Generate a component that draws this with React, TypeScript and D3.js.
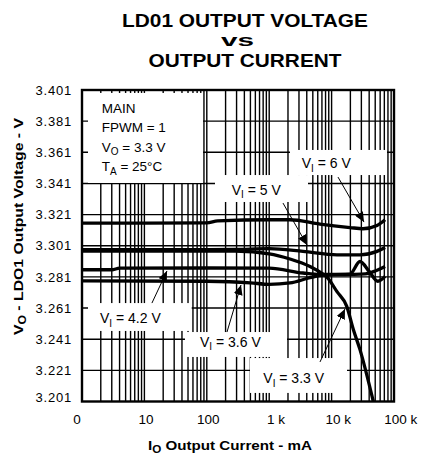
import * as d3 from 'd3';

// output current (mA) / output voltage (V) pairs
const vi6: [number, number][] = [
  [1, 3.3155], [10, 3.3155], [100, 3.3157], [150, 3.317], [1000, 3.3177], [2150, 3.3177],
  [6500, 3.3149], [19700, 3.3127], [31800, 3.3119], [53400, 3.314], [72000, 3.3177],
];
const vi5: [number, number][] = [
  [1, 3.2985], [100, 3.2985], [283, 3.2986], [1000, 3.2991], [3480, 3.2974], [12200, 3.2952],
  [28500, 3.2952], [53400, 3.2974], [72000, 3.2999],
];
const vi42: [number, number][] = [
  [1, 3.2856], [3, 3.2856], [4, 3.2866], [100, 3.2867], [1000, 3.2866], [3480, 3.2835],
  [6500, 3.2826], [19700, 3.2828], [28500, 3.2909], [40000, 3.2845], [55000, 3.2782], [72000, 3.2813],
];
const vi36: [number, number][] = [
  [1, 3.2785], [100, 3.2782], [500, 3.2772], [1000, 3.2762], [2150, 3.2771], [4510, 3.2805],
  [7280, 3.2822], [20000, 3.2826], [35000, 3.283], [50000, 3.2848], [72000, 3.2877],
];
const vi33: [number, number][] = [
  [1, 3.2976], [100, 3.2976], [283, 3.2975], [1000, 3.2958], [2150, 3.2925], [4510, 3.2877],
  [7280, 3.2828], [8440, 3.2808], [12200, 3.2715], [17500, 3.2621], [22300, 3.2472],
  [28500, 3.2343], [46600, 3.201],
];
const series = [vi6, vi5, vi42, vi36, vi33];

const yTickValues = [3.201, 3.221, 3.241, 3.261, 3.281, 3.301, 3.321, 3.341, 3.361, 3.381, 3.401];
const xTickValues = [1, 10, 100, 1000, 10000, 100000];
const xTickLabels = ['0', '10', '100', '1 k', '10 k', '100 k'];

const legendLines = [
  { main: 'MAIN', sub: '', rest: '' },
  { main: 'FPWM = 1', sub: '', rest: '' },
  { main: 'V', sub: 'O', rest: ' = 3.3 V' },
  { main: 'T', sub: 'A', rest: ' = 25°C' },
];

// callouts, placed in data units: text start, box corners, arrow tail and head
const callouts = [
  { label: ' = 6 V', text: [3318, 3.3507], box: [2154, 3.3625, 77230, 3.3464], from: [12660, 3.3451], to: [33050, 3.3162] },
  { label: ' = 5 V', text: [250.6, 3.3339], box: [135.3, 3.3464, 4186, 3.3291], from: [1664, 3.3284], to: [4035, 3.3015] },
  { label: ' = 4.2 V', text: [1.943, 3.2514], box: [1.248, 3.2642, 57.3, 3.2463], from: [13.2, 3.2642], to: [23.0, 3.2848] },
  { label: ' = 3.6 V', text: [77.8, 3.2362], box: [44.7, 3.2456, 1929, 3.2296], from: [210.7, 3.2456], to: [353.3, 3.2758] },
  { label: ' = 3.3 V', text: [804, 3.2127], box: [492.4, 3.2289, 17650, 3.2065], from: [6518, 3.2264], to: [16400, 3.2604] },
];
const legendBox = [1.248, 3.3991, 87, 3.3413];
const legendTextAt = [2.07, 3.3862];
const legendStep = 0.01241;

const W = 421;
const H = 456;
const plot = { left: 82, right: 394, top: 90, bottom: 401.5 };
const font = '"Liberation Sans", Arial, Helvetica, sans-serif';

export default function App() {
  const x = d3.scaleLog().domain([1, 1e5]).range([plot.left, plot.right]);
  const y = d3.scaleLinear().domain([3.201, 3.401]).range([plot.bottom, plot.top]);

  const line = d3
    .line<[number, number]>()
    .x(d => x(d[0]))
    .y(d => y(d[1]))
    .curve(d3.curveMonotoneX);

  const xGrid = x.ticks().filter(v => v > 1 && v < 1e5);
  const yGrid = yTickValues.slice(1, -1);

  return (
    <svg
      width={W}
      height={H}
      style={{ position: 'absolute', left: 0, top: 0, background: '#fff' }}
      fontFamily={font}
    >
      <defs>
        <clipPath id="plot-clip">
          <rect x={plot.left} y={plot.top} width={plot.right - plot.left} height={plot.bottom - plot.top} />
        </clipPath>
        <marker id="arrow" markerUnits="userSpaceOnUse" markerWidth={11} markerHeight={9} refX={10} refY={4.5} orient="auto">
          <path d="M0,0 L10,4.5 L0,9 Z" fill="#000" />
        </marker>
      </defs>

      {/* title */}
      <g fontWeight="bold" fontSize={18} textAnchor="middle">
        <text x={245} y={27.3} textLength={246} lengthAdjust="spacingAndGlyphs">LD01 OUTPUT VOLTAGE</text>
        <text x={237.5} y={45.7} fontSize={16} textLength={33} lengthAdjust="spacingAndGlyphs">vs</text>
        <text x={245} y={66.7} textLength={193} lengthAdjust="spacingAndGlyphs">OUTPUT CURRENT</text>
      </g>

      {/* grid */}
      <g stroke="#000" strokeWidth={1.4}>
        {xGrid.map(v => (
          <line key={v} x1={x(v)} x2={x(v)} y1={plot.top} y2={plot.bottom} />
        ))}
        {yGrid.map(v => (
          <line key={v} x1={plot.left} x2={plot.right} y1={y(v)} y2={y(v)} />
        ))}
      </g>

      {/* white boxes behind the notes */}
      <g fill="#fff">
        <rect
          x={x(legendBox[0])}
          y={y(legendBox[1])}
          width={x(legendBox[2]) - x(legendBox[0])}
          height={y(legendBox[3]) - y(legendBox[1])}
        />
        {callouts.map(c => (
          <rect
            key={c.label}
            x={x(c.box[0])}
            y={y(c.box[1])}
            width={x(c.box[2]) - x(c.box[0])}
            height={y(c.box[3]) - y(c.box[1])}
          />
        ))}
      </g>

      {/* curves */}
      <g clipPath="url(#plot-clip)" fill="none" stroke="#000" strokeWidth={3.3} strokeLinejoin="round">
        {series.map((s, i) => (
          <path key={i} d={line(s) ?? ''} />
        ))}
      </g>

      {/* arrows */}
      <g stroke="#000" strokeWidth={1}>
        {callouts.map(c => (
          <line
            key={c.label}
            x1={x(c.from[0])}
            y1={y(c.from[1])}
            x2={x(c.to[0])}
            y2={y(c.to[1])}
            markerEnd="url(#arrow)"
          />
        ))}
      </g>

      {/* legend text */}
      <g fontSize={13.5}>
        {legendLines.map((l, i) => (
          <text key={i} x={x(legendTextAt[0])} y={y(legendTextAt[1] - i * legendStep)}>
            {l.main}
            {l.sub && (
              <tspan fontSize={10} dy={3.5}>
                {l.sub}
              </tspan>
            )}
            {l.rest && <tspan dy={-3.5}>{l.rest}</tspan>}
          </text>
        ))}
      </g>

      {/* callout labels */}
      <g fontSize={14}>
        {callouts.map(c => (
          <text key={c.label} x={x(c.text[0])} y={y(c.text[1])}>
            V
            <tspan fontSize={10} dy={3.5}>
              I
            </tspan>
            <tspan dy={-3.5}>{c.label}</tspan>
          </text>
        ))}
      </g>

      {/* frame */}
      <rect
        x={plot.left}
        y={plot.top}
        width={plot.right - plot.left}
        height={plot.bottom - plot.top}
        fill="none"
        stroke="#000"
        strokeWidth={2.4}
      />

      {/* y tick labels */}
      <g fontSize={13} textAnchor="end" letterSpacing={0.8}>
        {yTickValues.map((v, i) => (
          <text key={v} x={plot.left - 10} y={y(v) + 4.6 - (i === 0 ? 4.5 : 0)}>
            {v.toFixed(3)}
          </text>
        ))}
      </g>

      {/* x tick labels: the number part is centred on its grid line */}
      <g fontSize={13.5}>
        {xTickValues.map((v, i) => {
          const num = xTickLabels[i].split(' ')[0];
          return (
            <text key={v} x={x(v) - (num.length * 0.556 * 13.5) / 2 + (i === 0 ? -5 : 1.5)} y={423.5}>
              {xTickLabels[i]}
            </text>
          );
        })}
      </g>

      {/* axis titles */}
      <text
        x={148}
        y={450}
        fontSize={13}
        fontWeight="bold"
        textLength={164}
        lengthAdjust="spacingAndGlyphs"
      >
        I
        <tspan fontSize={10} dy={3}>
          O
        </tspan>
        <tspan dy={-3}> Output Current - mA</tspan>
      </text>
      <text
        transform={`translate(22.5, ${(118 + 335) / 2}) rotate(-90)`}
        x={-108.5}
        y={0}
        fontSize={13}
        fontWeight="bold"
        textLength={217}
        lengthAdjust="spacingAndGlyphs"
      >
        V
        <tspan fontSize={10} dy={3}>
          O
        </tspan>
        <tspan dy={-3}> - LDO1 Output Voltage - V</tspan>
      </text>
    </svg>
  );
}
